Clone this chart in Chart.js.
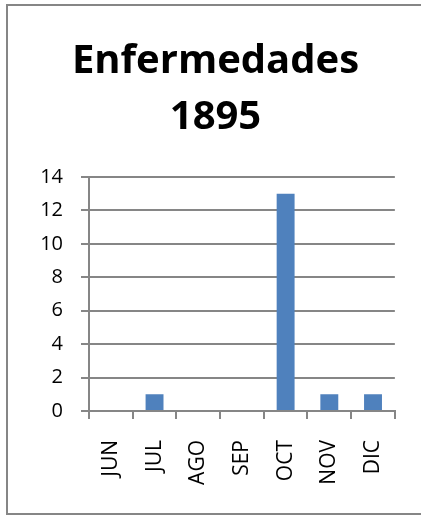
<!DOCTYPE html>
<html>
<head>
<meta charset="utf-8">
<script src="https://cdn.jsdelivr.net/npm/chart.js@4.4.1/dist/chart.umd.min.js"></script>
<style>
  body { margin: 0; background: #fff; }
  canvas { display: block; }
</style>
</head>
<body>
<canvas id="chart"></canvas>
<script>
var titleLines = ["Enfermedades", "1895"];
var months = ["JUN", "JUL", "AGO", "SEP", "OCT", "NOV", "DIC"];
var cases = [0, 1, 0, 0, 13, 1, 1];
var yTicksMax = 14;
var yStep = 2;

var gray = "#868686";

var frame = {
  id: "frame",
  beforeDraw: function (chart) {
    var c = chart.ctx;
    c.save();
    c.fillStyle = "#fff";
    c.fillRect(0, 0, chart.width, chart.height);
    c.strokeStyle = gray;
    c.lineWidth = 2;
    c.strokeRect(7, 5, 430, 509);
    c.restore();
  },
};

var ctx = document.getElementById("chart");
ctx.width = 421;
ctx.height = 516;

new Chart(ctx, {
  type: "bar",
  data: {
    labels: months,
    datasets: [
      {
        data: cases,
        backgroundColor: "#4F81BD",
        barPercentage: 0.41,
        categoryPercentage: 1,
      },
    ],
  },
  options: {
    responsive: false,
    animation: false,
    layout: {
      padding: { left: 35, right: 25, top: 34, bottom: 0 },
    },
    plugins: {
      legend: { display: false },
      tooltip: { enabled: false },
      title: {
        display: true,
        text: titleLines,
        color: "#000",
        font: { family: "Open Sans", size: 40, weight: "bold", lineHeight: 1.4 },
        padding: { top: 0, bottom: 31 },
      },
    },
    scales: {
      x: {
        grid: {
          drawOnChartArea: false,
          color: gray,
          lineWidth: 2,
          tickLength: 8,
        },
        border: { color: gray, width: 2 },
        ticks: {
          color: "#000",
          font: { family: "Open Sans", size: 21 },
          minRotation: 90,
          maxRotation: 90,
          padding: 21,
        },
        afterFit: function (scale) {
          scale.height = 105;
        },
      },
      y: {
        min: 0,
        max: yTicksMax,
        grid: {
          color: gray,
          lineWidth: 2,
          tickLength: 8,
        },
        border: { color: gray, width: 2 },
        ticks: {
          stepSize: yStep,
          color: "#000",
          font: { family: "Open Sans", size: 20 },
          padding: 18,
        },
        afterFit: function (scale) {
          scale.width = 54;
        },
      },
    },
  },
  plugins: [frame],
});
</script>
</body>
</html>
